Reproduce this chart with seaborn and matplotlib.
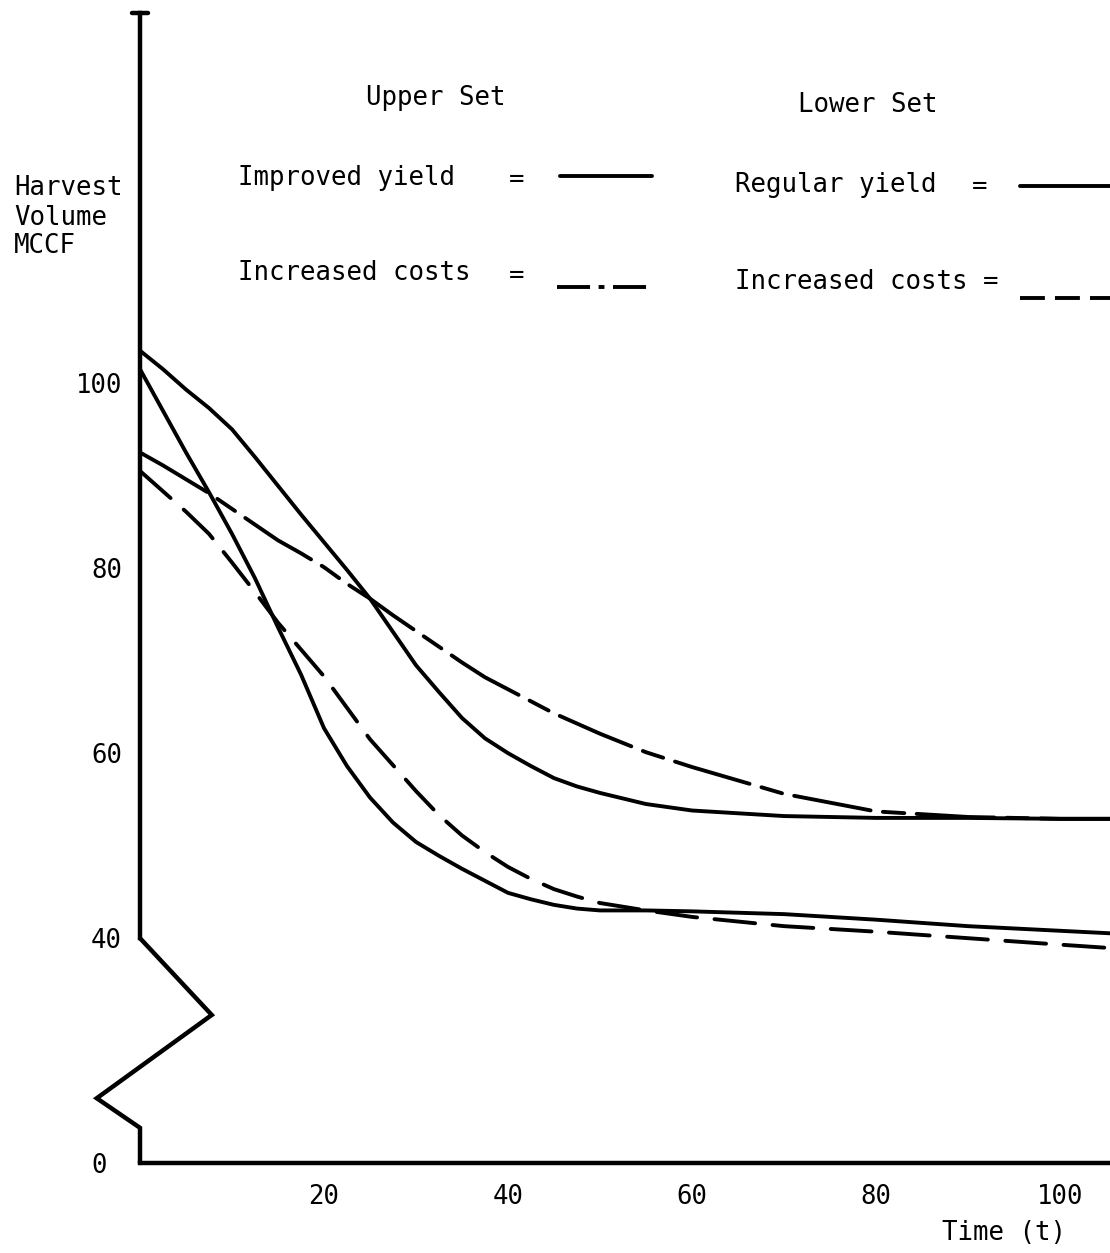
import matplotlib
matplotlib.use("Agg")
import numpy as np
import pandas as pd
import matplotlib.pyplot as plt
import seaborn as sns
from matplotlib.lines import Line2D

# ---------------- data ----------------
time_t = [0, 2.5, 5, 7.5, 10, 12.5, 15, 17.5, 20, 22.5, 25, 27.5, 30, 32.5, 35, 37.5,
          40, 42.5, 45, 47.5, 50, 55, 60, 70, 80, 90, 100, 106]
improved_yield = [103.5, 101.5, 99.3, 97.3, 95.0, 92.0, 88.9, 85.8, 82.8, 79.8, 76.7,
                  73.1, 69.5, 66.6, 63.8, 61.6, 60.0, 58.6, 57.3, 56.4, 55.7,
                  54.5, 53.8, 53.2, 53.0, 53.0, 52.9, 52.9]
upper_increased_costs = [92.5, 91.1, 89.6, 88.1, 86.4, 84.7, 83.0, 81.6, 80.1, 78.3, 76.7,
                         74.9, 73.2, 71.5, 69.8, 68.2, 66.9, 65.6, 64.3, 63.2, 62.1,
                         60.1, 58.5, 55.6, 53.7, 53.1, 52.9, 52.9]
regular_yield = [101.5, 97.0, 92.5, 88.2, 83.7, 78.9, 73.6, 68.5, 62.7, 58.6, 55.2,
                 52.5, 50.4, 48.9, 47.5, 46.2, 44.9, 44.2, 43.6, 43.2, 43.0,
                 43.0, 42.9, 42.6, 42.0, 41.3, 40.8, 40.5]
lower_increased_costs = [90.5, 88.3, 86.1, 83.7, 80.6, 77.4, 74.1, 71.2, 68.3, 64.9, 61.5,
                         58.7, 55.9, 53.3, 51.1, 49.3, 47.7, 46.4, 45.3, 44.5, 43.8,
                         43.0, 42.3, 41.3, 40.7, 40.0, 39.3, 38.9]

x_ticks = [20, 40, 60, 80, 100]
x_tick_labels = ["20", "40", "60", "80", "100"]
y_ticks = [15.7, 40, 60, 80, 100, 120]
y_tick_labels = ["0", "40", "60", "80", "100", ""]

# ---------------- figure ----------------
W, H = 1110, 1253
FS = 18.5
sns.set_theme(style="white")
plt.rcParams["font.family"] = ["DejaVu Sans Mono", "DejaVu Sans"]

fig = plt.figure(figsize=(W / 100, H / 100), dpi=100)
fig.patch.set_facecolor("white")
ax = fig.add_axes([140 / W, 1 - 1163 / H, (1110 - 140) / W, (1163 - 13) / H])
ax.set_facecolor("white")

LW = 2.8
DASHDOT = (0, (20, 3.2, 5.5, 3.2))
DASHED = (0, (10.5, 4.5))

n = len(time_t)
df = pd.DataFrame({
    "t": time_t * 4,
    "v": improved_yield + upper_increased_costs + regular_yield + lower_increased_costs,
    "s": (["Improved yield"] * n + ["Upper increased costs"] * n
          + ["Regular yield"] * n + ["Lower increased costs"] * n),
})
styles = {
    "Improved yield": "-",
    "Upper increased costs": DASHDOT,
    "Regular yield": "-",
    "Lower increased costs": DASHED,
}
for name, ls in styles.items():
    sub = df[df["s"] == name]
    sns.lineplot(data=sub, x="t", y="v", ax=ax, color="black", lw=LW,
                 linestyle=ls, estimator=None, sort=False, legend=False,
                 dash_capstyle="round", solid_capstyle="round",
                 solid_joinstyle="round")

ax.set_xlim(0, (1110 - 140) / 9.2)
ax.set_ylim(15.7, 140.0)

# axes styling
for side in ["top", "right"]:
    ax.spines[side].set_visible(False)
ax.spines["left"].set_linewidth(3.2)
ax.spines["left"].set_color("black")
ax.spines["left"].set_bounds(40, 140)
ax.spines["bottom"].set_linewidth(3.2)
ax.spines["bottom"].set_color("black")

ax.set_xticks(x_ticks)
ax.set_xticklabels(x_tick_labels)
ax.set_yticks(y_ticks)
ax.set_yticklabels(y_tick_labels)
ax.tick_params(axis="both", direction="out", length=6, width=2.5, color="black",
               labelsize=FS, labelcolor="black")
ax.tick_params(axis="x", pad=9)
ax.tick_params(axis="y", pad=7)
zero_tick = ax.yaxis.get_major_ticks()[0]
zero_tick.tick1line.set_visible(False)
zero_tick.set_pad(18)
ax.set_xlabel("")
ax.set_ylabel("")
ax.grid(False)

# broken-axis zigzag and top cap of the y axis
ax.plot([0, 7.8, -4.7, 0, 0], [40, 31.7, 22.7, 19.5, 15.7], color="black", lw=3.2,
        clip_on=False, solid_joinstyle="miter")
ax.plot([-0.9, 0.9], [140, 140], color="black", lw=3.2, clip_on=False)


def ftext(x, y, s, ha="left"):
    fig.text(x / W, 1 - y / H, s, ha=ha, va="center", fontsize=FS, color="black")


# y-axis title and x-axis title
ftext(14, 188, "Harvest")
ftext(14, 218, "Volume")
ftext(14, 246, "MCCF")
ftext(942, 1233, "Time (t)")

# legend block
ftext(366, 98, "Upper Set")
ftext(798, 105, "Lower Set")
ftext(238, 178, "Improved yield")
ftext(517, 180, "=", ha="center")
ftext(238, 273, "Increased costs")
ftext(517, 276, "=", ha="center")
ftext(735, 185, "Regular yield")
ftext(980, 187, "=", ha="center")
ftext(735, 282, "Increased costs =")


def sample(x0, x1, y, ls):
    fig.add_artist(Line2D([x0 / W, x1 / W], [1 - y / H, 1 - y / H], color="black",
                          lw=LW, linestyle=ls, transform=fig.transFigure))


sample(560, 652, 176, "-")
sample(557, 652, 287, (0, (8.5, 2.2, 1.5, 2.2)))
sample(1020, 1110, 186, "-")
sample(1020, 1110, 298, (0, (6.4, 2.6)))

fig.savefig("out.png", dpi=100, facecolor="white")
